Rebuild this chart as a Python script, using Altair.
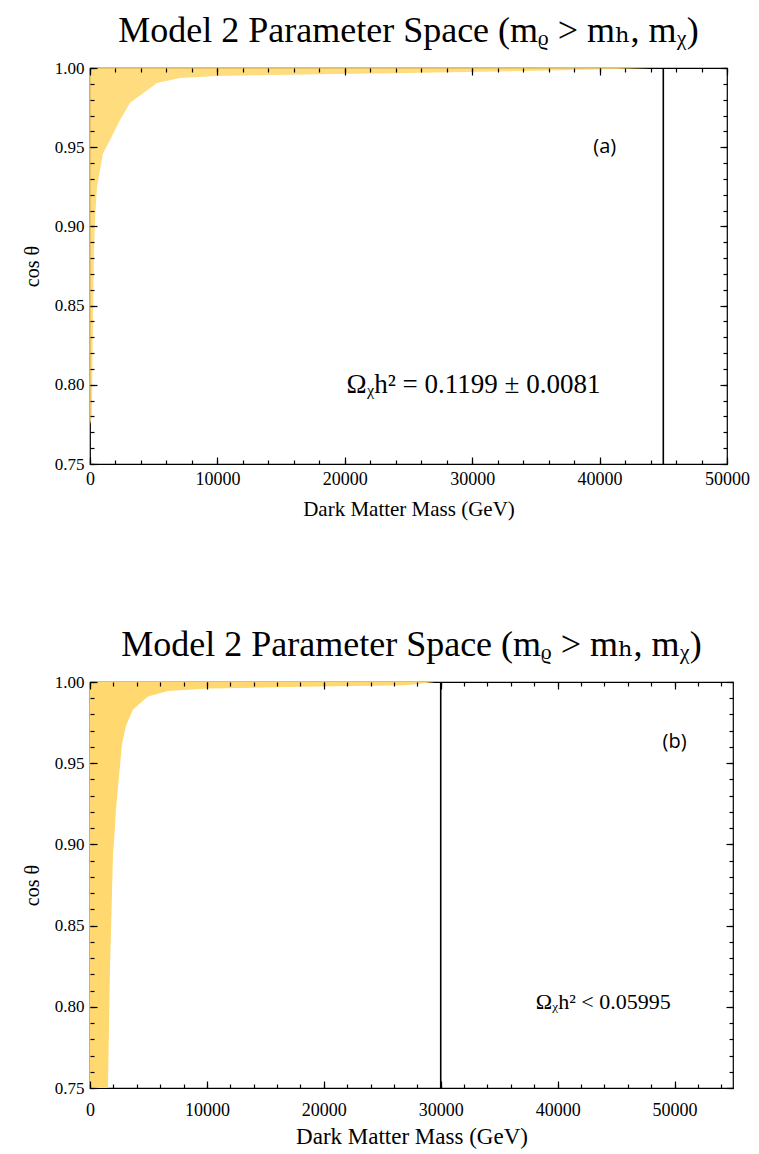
import altair as alt
import pandas as pd

# ---------------- data ----------------
# Panel (a): right-hand edge of the allowed (yellow) region, per cos(theta)
a_cos = [1.000, 0.999, 0.998, 0.997, 0.996, 0.995, 0.9937, 0.9905, 0.984, 0.978,
         0.967, 0.957, 0.946, 0.925, 0.904, 0.880, 0.850, 0.820, 0.780, 0.775]
a_mass = [44000, 40000, 33000, 26000, 18000, 10000, 7060, 5260, 4160, 3140,
          2350, 1730, 1020, 550, 390, 300, 250, 200, 150, 0]

# Panel (b)
b_cos = [1.000, 0.998, 0.997, 0.996, 0.9945, 0.991, 0.983, 0.973, 0.962, 0.942,
         0.921, 0.901, 0.8946, 0.823, 0.752, 0.750]
b_mass = [29500, 27000, 18000, 10100, 6670, 4960, 3680, 3080, 2740, 2480,
          2220, 2050, 1970, 1710, 1540, 1540]

titles = ["Model 2 Parameter Space (mᵨ > mₕ, mᵪ)",
          "Model 2 Parameter Space (mᵨ > mₕ, mᵪ)"]
x_max = [50000, 55000]
cut_line = [45000, 30000]
tags = ["(a)", "(b)"]
tag_pos = [(40400, 0.950), (50000, 0.963)]
notes = ["Ωᵪh² = 0.1199 ± 0.0081", "Ωᵪh² < 0.05995"]
note_pos = [(30100, 0.800), (43900, 0.803)]
note_size = [27, 22]
x_title = "Dark Matter Mass (GeV)"
y_title = "cos θ"
y_major = [0.75, 0.80, 0.85, 0.90, 0.95, 1.00]
y_minor = [round(0.75 + 0.01 * i, 2) for i in range(26)]

SERIF = "Liberation Serif, DejaVu Serif, serif"
YELLOW = "#FFD970"

# per-panel axis text styling: (x label size, x label pad, x title size, x title pad)
x_style = [(18, 13, 21, 10), (18, 20, 23, 6)]


def axis(orient, values, labels=False, major=True, title=None, fmt=None,
         lsize=17, lpad=13, tsize=20, tpad=10):
    kw = dict(orient=orient, values=values, labels=labels, domain=False,
              tickColor="black", tickWidth=1.2, grid=False, zindex=2,
              tickSize={"expr": "-7" if major else "-4"})
    if labels:
        kw.update(labelFont=SERIF, labelFontSize=lsize, labelColor="black",
                  labelPadding=lpad, labelFlush=False)
        if fmt:
            kw["format"] = fmt
    if title:
        kw.update(title=title, titleFont=SERIF, titleFontSize=tsize,
                  titleFontWeight="normal", titleColor="black", titlePadding=tpad)
    else:
        kw["title"] = None
    return alt.Axis(**kw)


def panel(i, cos_vals, mass_vals, w, h, color, opacity):
    xmax = x_max[i]
    xs = alt.Scale(domain=[0, xmax], nice=False, zero=True)
    ys = alt.Scale(domain=[0.75, 1.0], nice=False, zero=False)
    x_major = list(range(0, xmax + 1, 10000))
    x_minor = list(range(0, xmax + 1, 2000))
    lsize, lpad, tsize, tpad = x_style[i]

    df = pd.DataFrame({"mass": mass_vals, "cos": cos_vals})
    area = alt.Chart(df).mark_area(orient="horizontal", color=color,
                                   opacity=opacity).encode(
        x=alt.X("mass:Q", scale=xs,
                axis=axis("bottom", x_major, labels=True, title=x_title, fmt="d",
                          lsize=lsize, lpad=lpad, tsize=tsize, tpad=tpad)),
        y=alt.Y("cos:Q", scale=ys,
                axis=axis("left", y_major, labels=True, title=y_title, fmt=".2f",
                          lsize=17, lpad=13, tsize=20, tpad=12)),
    )

    line_df = pd.DataFrame({"mass": [cut_line[i]], "lo": [0.75], "hi": [1.0]})
    rule = alt.Chart(line_df).mark_rule(color="black", strokeWidth=1.6).encode(
        x=alt.X("mass:Q", scale=xs, axis=axis("bottom", x_minor, major=False)),
        y=alt.Y("lo:Q", scale=ys, axis=axis("left", y_minor, major=False)),
        y2="hi:Q",
    )

    tag_df = pd.DataFrame({"mass": [tag_pos[i][0]], "cos": [tag_pos[i][1]],
                           "t": [tags[i]]})
    tag = alt.Chart(tag_df).mark_text(font="Open Sans", fontSize=20,
                                      color="black").encode(
        x=alt.X("mass:Q", scale=xs, axis=axis("top", x_major)),
        y=alt.Y("cos:Q", scale=ys, axis=axis("right", y_major)),
        text="t:N",
    )

    note_df = pd.DataFrame({"mass": [note_pos[i][0]], "cos": [note_pos[i][1]],
                            "t": [notes[i]]})
    note = alt.Chart(note_df).mark_text(font=SERIF, fontSize=note_size[i],
                                        color="black").encode(
        x=alt.X("mass:Q", scale=xs, axis=axis("top", x_minor, major=False)),
        y=alt.Y("cos:Q", scale=ys, axis=axis("right", y_minor, major=False)),
        text="t:N",
    )

    return alt.layer(area, rule, tag, note).resolve_axis(
        x="independent", y="independent"
    ).properties(
        width=w, height=h,
        title=alt.TitleParams(titles[i], font=SERIF, fontSize=36,
                              fontWeight="normal", color="black", offset=9),
    )


top = panel(0, a_cos, a_mass, 637, 396, YELLOW, 0.9)
bottom = panel(1, b_cos, b_mass, 643, 406, YELLOW, 1.0)

chart = alt.vconcat(top, bottom, spacing=106).configure_view(
    stroke="black", strokeWidth=1.2
).configure_axis(
    labelFont=SERIF, titleFont=SERIF
).properties(padding={"left": 13, "top": 4, "right": 0, "bottom": 0})

chart.save("out.html", embed_options={"renderer": "svg", "actions": False})
